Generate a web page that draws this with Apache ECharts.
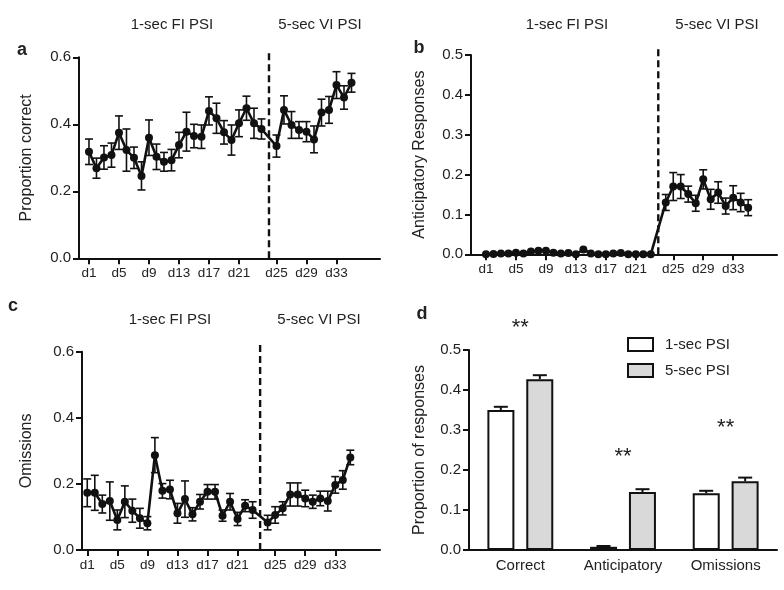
<!DOCTYPE html>
<html>
<head>
    <meta charset="utf-8" />
    <title>PSI</title>
    <script src="https://cdn.jsdelivr.net/npm/echarts@6.0.0/dist/echarts.min.js"></script>
</head>
<body style="margin:0">
    <div id="main" style="width: 784px;height: 590px;"></div>
    <script type="text/javascript">
        // session slots 0..35 (one empty slot where the dashed line sits)
        var dayTickPos = [0, 4, 8, 12, 16, 20, 25, 29, 33];
        var dayTickLabels = ['d1', 'd5', 'd9', 'd13', 'd17', 'd21', 'd25', 'd29', 'd33'];

        // a: proportion correct
        var correctMean = [0.318, 0.269, 0.301, 0.308, 0.375, 0.323, 0.300, 0.246, 0.360, 0.303, 0.288, 0.293,
            0.338, 0.378, 0.365, 0.363, 0.440, 0.418, 0.376, 0.353, 0.403, 0.448, 0.403, 0.386, null,
            0.335, 0.443, 0.398, 0.383, 0.378, 0.355, 0.435, 0.443, 0.517, 0.480, 0.524];
        var correctErr = [0.038, 0.030, 0.035, 0.036, 0.050, 0.063, 0.032, 0.042, 0.053, 0.038, 0.028, 0.032,
            0.038, 0.058, 0.035, 0.035, 0.042, 0.045, 0.035, 0.045, 0.040, 0.036, 0.045, 0.030, null,
            0.033, 0.042, 0.040, 0.025, 0.030, 0.040, 0.040, 0.040, 0.040, 0.035, 0.028];

        // b: anticipatory responses
        var anticMean = [0, 0.001, 0.002, 0.002, 0.004, 0.002, 0.007, 0.009, 0.009, 0.004, 0.002, 0.003,
            0, 0.012, 0.002, 0, 0, 0.002, 0.003, 0, 0, 0, 0, null,
            0.130, 0.170, 0.170, 0.151, 0.128, 0.188, 0.138, 0.155, 0.121, 0.142, 0.130, 0.117];
        var anticErr = [0, 0, 0, 0, 0, 0, 0, 0, 0, 0, 0, 0,
            0, 0, 0, 0, 0, 0, 0, 0, 0, 0, 0, null,
            0.020, 0.035, 0.030, 0.020, 0.020, 0.024, 0.025, 0.027, 0.020, 0.030, 0.023, 0.020];

        // c: omissions
        var omisMean = [0.173, 0.173, 0.139, 0.148, 0.091, 0.146, 0.119, 0.096, 0.081, 0.287, 0.179, 0.183,
            0.111, 0.154, 0.108, 0.146, 0.176, 0.176, 0.104, 0.146, 0.094, 0.134, 0.121, null,
            0.083, 0.106, 0.126, 0.168, 0.168, 0.156, 0.146, 0.156, 0.148, 0.197, 0.212, 0.280];
        var omisErr = [0.042, 0.053, 0.027, 0.058, 0.030, 0.048, 0.035, 0.030, 0.020, 0.053, 0.022, 0.028,
            0.030, 0.055, 0.020, 0.022, 0.022, 0.022, 0.017, 0.025, 0.020, 0.018, 0.025, null,
            0.022, 0.025, 0.020, 0.035, 0.035, 0.025, 0.020, 0.022, 0.030, 0.025, 0.028, 0.022];

        // d: summary
        var summaryCats = ['Correct', 'Anticipatory', 'Omissions'];
        var psi1Mean = [0.350, 0.008, 0.142];
        var psi1Err = [0.008, 0.002, 0.006];
        var psi5Mean = [0.427, 0.145, 0.172];
        var psi5Err = [0.010, 0.007, 0.009];
        var starY = [0.555, 0.232, 0.305];

        var FONT = 'Liberation Sans, Arial, sans-serif';
        var INK = '#111';

        var myChart = echarts.init(document.getElementById('main'));

        function dayAxis(idx, min, max) {
            return {
                type: 'value', gridIndex: idx, min: min, max: max,
                splitLine: { show: false },
                axisLine: { onZero: false, lineStyle: { color: INK, width: 2 } },
                axisTick: { customValues: dayTickPos, length: 6, lineStyle: { color: INK, width: 2 } },
                axisLabel: {
                    customValues: dayTickPos, margin: 8, color: '#222', fontSize: 13.5, fontFamily: FONT,
                    formatter: function (v) { return dayTickLabels[dayTickPos.indexOf(v)] || ''; }
                }
            };
        }

        function propAxis(idx, max, interval, name, gap) {
            return {
                type: 'value', gridIndex: idx, min: 0, max: max, interval: interval,
                name: name, nameLocation: 'middle', nameGap: gap,
                nameTextStyle: { fontSize: 16, fontFamily: FONT, color: '#222' },
                splitLine: { show: false },
                axisLine: { show: true, onZero: false, lineStyle: { color: INK, width: 2 } },
                axisTick: { show: true, length: 6, lineStyle: { color: INK, width: 2 } },
                axisLabel: {
                    margin: 8, color: '#222', fontSize: 15, fontFamily: FONT,
                    formatter: function (v) { return v.toFixed(1); }
                }
            };
        }

        function pairs(arr) {
            var out = [];
            arr.forEach(function (v, i) { if (v != null) out.push([i, v]); });
            return out;
        }

        function triples(means, errs) {
            var out = [];
            means.forEach(function (v, i) { if (v != null && errs[i] > 0) out.push([i, v, errs[i]]); });
            return out;
        }

        function errBars(idx, means, errs) {
            return {
                type: 'custom', xAxisIndex: idx, yAxisIndex: idx, z: 3,
                data: triples(means, errs), encode: { x: 0, y: 1 },
                renderItem: function (params, api) {
                    var x = api.value(0), m = api.value(1), e = api.value(2);
                    var t = api.coord([x, m + e]), b = api.coord([x, m - e]);
                    var st = { stroke: INK, lineWidth: 1.6 };
                    return {
                        type: 'group', children: [
                            { type: 'line', shape: { x1: t[0], y1: t[1], x2: b[0], y2: b[1] }, style: st },
                            { type: 'line', shape: { x1: t[0] - 4, y1: t[1], x2: t[0] + 4, y2: t[1] }, style: st },
                            { type: 'line', shape: { x1: b[0] - 4, y1: b[1], x2: b[0] + 4, y2: b[1] }, style: st }
                        ]
                    };
                }
            };
        }

        function dashLine(idx, x, top) {
            return {
                type: 'custom', xAxisIndex: idx, yAxisIndex: idx, z: 1,
                data: [[x, 0, top]], encode: { x: 0, y: 1 },
                renderItem: function (params, api) {
                    var p1 = api.coord([api.value(0), 0]);
                    var p2 = api.coord([api.value(0), api.value(2)]);
                    return {
                        type: 'line', shape: { x1: p1[0], y1: p1[1], x2: p2[0], y2: p2[1] },
                        style: { stroke: INK, lineWidth: 2.4, lineDash: [7, 4] }
                    };
                }
            };
        }

        function meanLine(idx, means) {
            return {
                type: 'line', xAxisIndex: idx, yAxisIndex: idx, z: 4,
                data: pairs(means),
                symbol: 'circle', symbolSize: 8,
                itemStyle: { color: INK },
                lineStyle: { color: INK, width: 2.6 }
            };
        }

        function barErr(offsetPx, means, errs) {
            var data = means.map(function (m, i) { return [i, m, errs[i]]; });
            return {
                type: 'custom', xAxisIndex: 3, yAxisIndex: 3, z: 3,
                data: data, encode: { x: 0, y: 1 },
                renderItem: function (params, api) {
                    var top = api.coord([api.value(0), api.value(1) + api.value(2)]);
                    var base = api.coord([api.value(0), api.value(1)]);
                    var x = top[0] + offsetPx;
                    var st = { stroke: INK, lineWidth: 2 };
                    return {
                        type: 'group', children: [
                            { type: 'line', shape: { x1: x, y1: base[1], x2: x, y2: top[1] }, style: st },
                            { type: 'line', shape: { x1: x - 7, y1: top[1], x2: x + 7, y2: top[1] }, style: st }
                        ]
                    };
                }
            };
        }

        function txt(x, y, s, size, bold) {
            return {
                type: 'text', x: x, y: y,
                style: {
                    text: s, fill: '#222', fontSize: size, fontFamily: FONT,
                    fontWeight: bold ? 'bold' : 'normal', align: 'center', verticalAlign: 'middle'
                }
            };
        }

        var option = {
            animation: false,
            backgroundColor: '#fff',
            grid: [
                { left: 79, right: 404, top: 57.3, bottom: 331.7 },
                { left: 471, right: 7, top: 55, bottom: 335.7 },
                { left: 82, right: 404, top: 351.7, bottom: 40 },
                { left: 469, right: 7, top: 350, bottom: 40 }
            ],
            xAxis: [
                dayAxis(0, -1.33, 38.8),
                dayAxis(1, -2.0, 38.85),
                dayAxis(2, -0.7, 38.95),
                {
                    type: 'category', gridIndex: 3, data: summaryCats,
                    axisLine: { lineStyle: { color: INK, width: 2 } },
                    axisTick: { alignWithLabel: true, length: 6, lineStyle: { color: INK, width: 2 } },
                    axisLabel: { margin: 8, color: '#222', fontSize: 15, fontFamily: FONT }
                }
            ],
            yAxis: [
                propAxis(0, 0.6, 0.2, 'Proportion correct', 44),
                propAxis(1, 0.5, 0.1, 'Anticipatory Responses', 43),
                propAxis(2, 0.6, 0.2, 'Omissions', 47),
                propAxis(3, 0.5, 0.1, 'Proportion of responses', 41)
            ],
            legend: {
                data: ['1-sec PSI', '5-sec PSI'],
                icon: 'rect',
                orient: 'vertical', left: 622, top: 332,
                itemWidth: 25, itemHeight: 13, itemGap: 11,
                textStyle: { fontSize: 15, fontFamily: FONT, color: '#222', padding: [0, 0, 0, 7] }
            },
            graphic: [
                txt(22, 50, 'a', 18, true),
                txt(419, 48, 'b', 18, true),
                txt(13, 306, 'c', 18, true),
                txt(422, 314, 'd', 18, true),
                txt(172, 25, '1-sec FI PSI', 15),
                txt(320, 25, '5-sec VI PSI', 15),
                txt(567, 25, '1-sec FI PSI', 15),
                txt(717, 25, '5-sec VI PSI', 15),
                txt(170, 320, '1-sec FI PSI', 15),
                txt(319, 320, '5-sec VI PSI', 15)
            ],
            series: [
                dashLine(0, 24, 0.622),
                errBars(0, correctMean, correctErr),
                meanLine(0, correctMean),

                dashLine(1, 23, 0.517),
                errBars(1, anticMean, anticErr),
                meanLine(1, anticMean),

                dashLine(2, 23, 0.629),
                errBars(2, omisMean, omisErr),
                meanLine(2, omisMean),

                {
                    name: '1-sec PSI', type: 'bar', xAxisIndex: 3, yAxisIndex: 3,
                    data: psi1Mean, barWidth: 27, barGap: '44%',
                    itemStyle: { color: '#fff', borderColor: INK, borderWidth: 2 }
                },
                {
                    name: '5-sec PSI', type: 'bar', xAxisIndex: 3, yAxisIndex: 3,
                    data: psi5Mean, barWidth: 27,
                    itemStyle: { color: '#d9d9d9', borderColor: INK, borderWidth: 2 }
                },
                barErr(-19.5, psi1Mean, psi1Err),
                barErr(19.5, psi5Mean, psi5Err),
                {
                    type: 'custom', xAxisIndex: 3, yAxisIndex: 3, z: 5,
                    data: starY.map(function (y, i) { return [i, y]; }), encode: { x: 0, y: 1 },
                    renderItem: function (params, api) {
                        var p = api.coord([api.value(0), api.value(1)]);
                        return {
                            type: 'text', x: p[0], y: p[1],
                            style: { text: '**', fontSize: 22, fontFamily: FONT, fill: '#222', align: 'center', verticalAlign: 'middle' }
                        };
                    }
                }
            ]
        };

        myChart.setOption(option);
    </script>
</body>
</html>
